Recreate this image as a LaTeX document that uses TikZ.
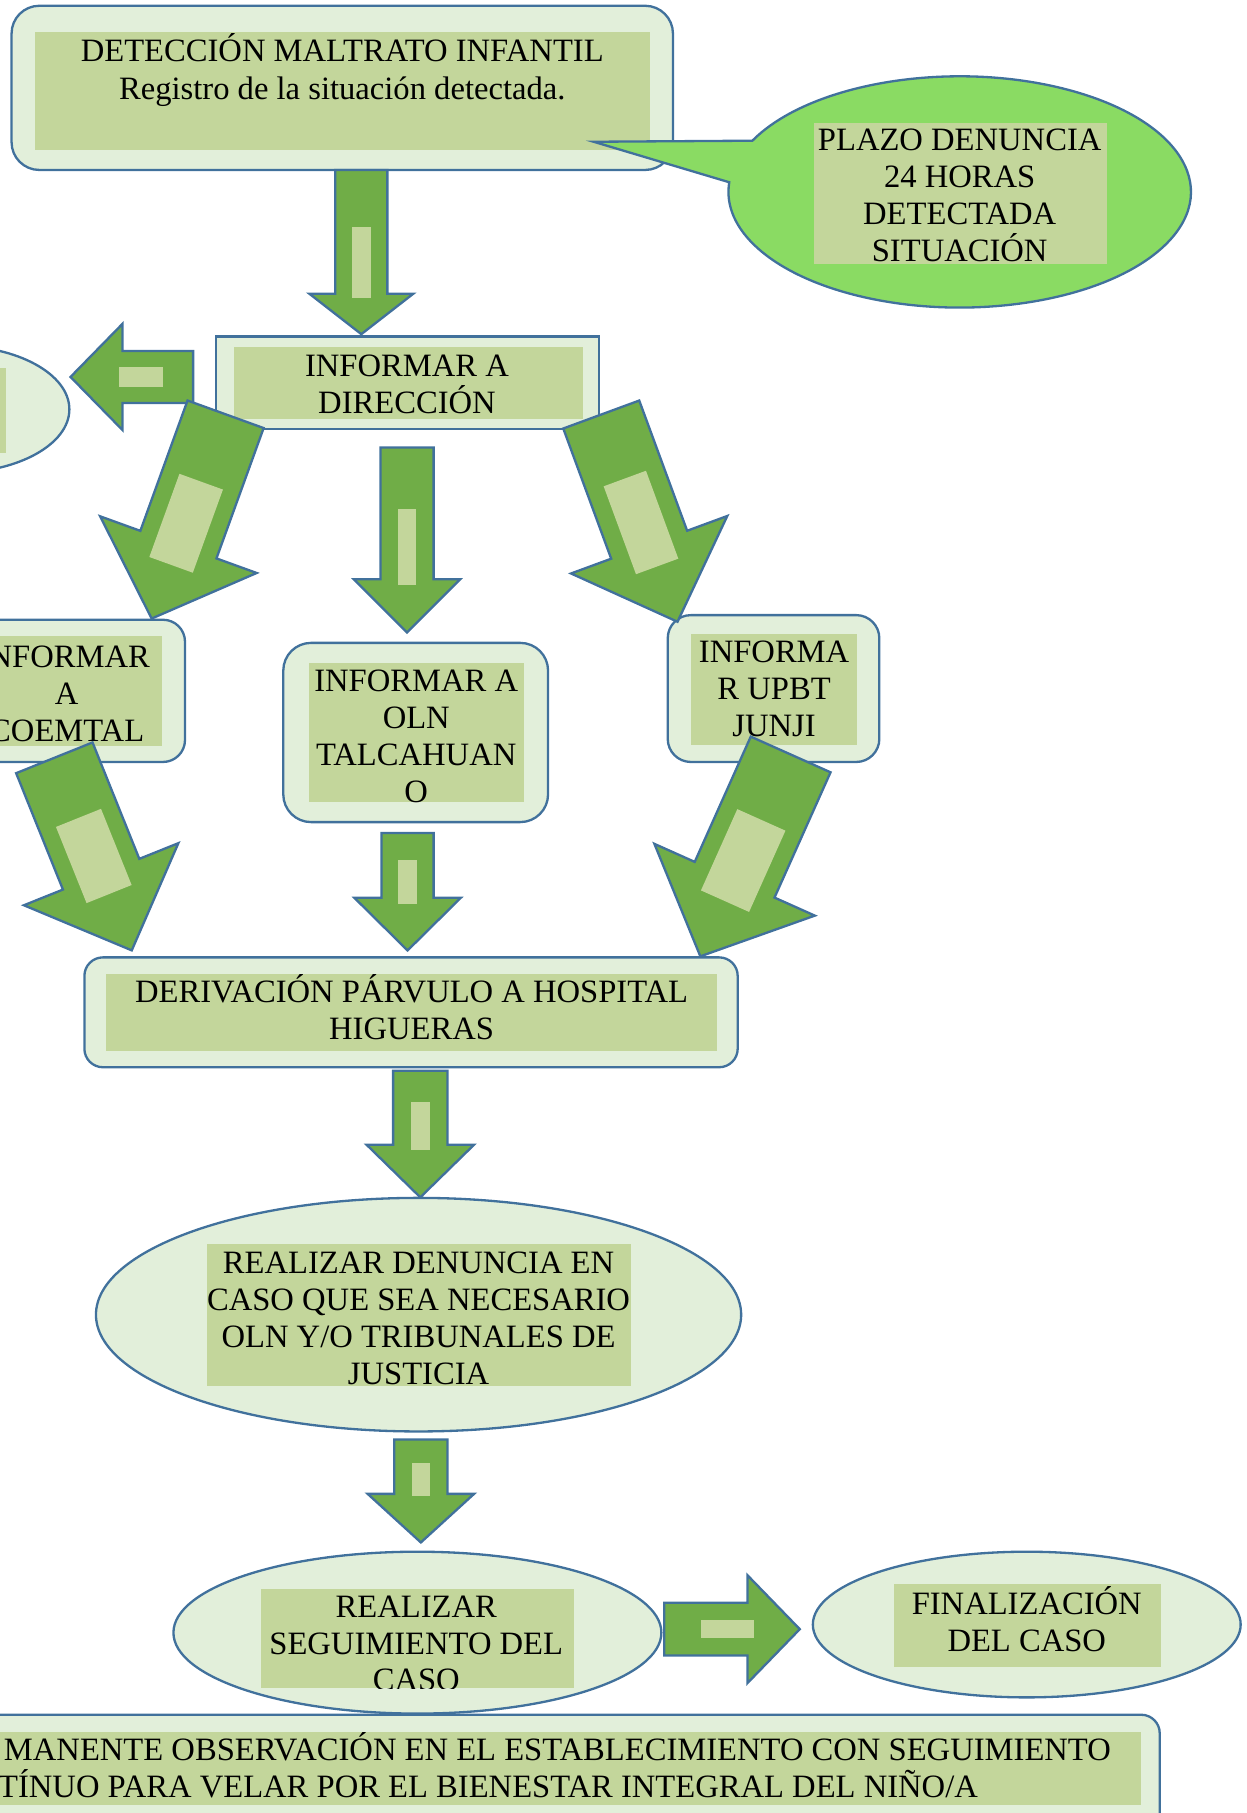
\documentclass[tikz,border=0pt]{standalone}
\usepackage{fontspec}
\setmainfont{Liberation Serif}
\usetikzlibrary{shapes.geometric}

\definecolor{boxfill}{RGB}{226,239,218}
\definecolor{innerfill}{RGB}{195,214,155}
\definecolor{arrowgreen}{RGB}{112,173,71}
\definecolor{edgeblue}{RGB}{65,113,156}
\definecolor{calloutgreen}{RGB}{138,219,99}

\tikzset{
  panel/.style={rectangle, draw=edgeblue, fill=boxfill, line width=1pt, inner sep=0pt},
  oval/.style={ellipse, draw=edgeblue, fill=boxfill, line width=1pt, inner sep=0pt},
  arrowbody/.style={draw=edgeblue, fill=arrowgreen, line width=1pt, line join=miter},
  arrowmark/.style={fill=innerfill},
  txt/.style={font=\fontsize{14.1pt}{16pt}\selectfont, inner sep=0pt, anchor=base},
}

% block arrow: tail x, tail y, angle, length, shaft half width,
% head half width, head length, inner mark start/end/half width
\newcommand\blockarrow[8]{%
  \begin{scope}[shift={(#1,#2)},rotate=#3]
    \filldraw[arrowbody] (0,-#5) -- ({#4-#7},-#5) -- ({#4-#7},-#6) -- (#4,0)
      -- ({#4-#7},#6) -- ({#4-#7},#5) -- (0,#5) -- cycle;
    \foreach \ia/\ib/\iw in {#8} {\fill[arrowmark] (\ia,-\iw) rectangle (\ib,\iw);}
  \end{scope}}

% centred lines of text: name, x, first baseline, line spacing, lines
\newcommand\textlines[5]{%
  \foreach \ln [count=\k] in {#5} {\node[txt] (#1-\k) at (#2,{#3+(\k-1)*#4}) {\ln};}}

\begin{document}
\begin{tikzpicture}[x=0.5pt,y=-0.5pt]
\useasboundingbox (0,0) rectangle (1078,1568);
\clip (0,0) rectangle (1078,1568);

% ---------- boxes ----------
\node[panel, rounded corners=12pt, minimum width=286pt, minimum height=71pt] (det) at (296,76) {};
\fill[innerfill] (30,28) rectangle (562,130);
\node[txt] (det-1) at (296,53) {DETECCIÓN MALTRATO INFANTIL};
\node[txt] (det-2) at (296,86) {Registro de la situación detectada.};

\node[panel, minimum width=165.5pt, minimum height=40pt] (dir) at (352.5,331) {};
\fill[innerfill] (202,300) rectangle (504,362);
\textlines{dirt}{352}{326}{32}{INFORMAR A,DIRECCIÓN}

\node[oval, minimum width=100pt, minimum height=55pt] (lel) at (-40,354) {};
\fill[innerfill] (-80,318) rectangle (5,392);

\node[panel, rounded corners=9.5pt, minimum width=102pt, minimum height=61.5pt] (coe) at (58,597.5) {};
\fill[innerfill] (-30,550) rectangle (140,645);
\node[txt, anchor=base east] (coet-1) at (130,577) {NFORMAR};
\node[txt] (coet-2) at (57.7,609) {A};
\node[txt] (coet-3) at (57.7,641) {COEMTAL};

\node[panel, rounded corners=12pt, minimum width=114.5pt, minimum height=77.5pt] (oln) at (359.5,633.5) {};
\fill[innerfill] (267,573) rectangle (453,694);
\textlines{olnt}{360}{598}{32}{INFORMAR A,OLN,TALCAHUAN,O}

\node[panel, rounded corners=10pt, minimum width=91.5pt, minimum height=63.5pt] (upbt) at (669,595.5) {};
\fill[innerfill] (598,548) rectangle (741,644);
\textlines{upbtt}{669.5}{573}{32}{INFORMA,R UPBT,JUNJI}

\node[panel, rounded corners=8pt, minimum width=282.5pt, minimum height=47.5pt] (der) at (355.5,875.5) {};
\fill[innerfill] (92,842) rectangle (620,909);
\textlines{dert}{356}{867}{32}{DERIVACIÓN PÁRVULO A HOSPITAL,HIGUERAS}

\node[oval, minimum width=279pt, minimum height=101pt] (den) at (362,1137) {};
\fill[innerfill] (179,1076) rectangle (546,1199);
\textlines{dent}{362}{1101}{32}{REALIZAR DENUNCIA EN,CASO QUE SEA NECESARIO,OLN Y/O TRIBUNALES DE,JUSTICIA}

\node[oval, minimum width=211pt, minimum height=70pt] (seg) at (361,1412) {};
\fill[innerfill] (226,1374) rectangle (496,1460);
\begin{scope}
  \clip (226,1374) rectangle (496,1460);
  \textlines{segt}{360}{1399}{31.5}{REALIZAR,SEGUIMIENTO DEL,CASO}
\end{scope}

\node[oval, minimum width=185pt, minimum height=63pt] (fin) at (888,1405) {};
\fill[innerfill] (773,1370) rectangle (1004,1442);
\textlines{fint}{888}{1396}{32}{FINALIZACIÓN,DEL CASO}

\node[panel, rounded corners=8pt, minimum width=522pt, minimum height=58.5pt] (bot) at (481,1541.5) {};
\fill[innerfill] (-20,1498) rectangle (987,1561);
\node[txt, anchor=base west] (bott-1) at (3,1523) {MANENTE OBSERVACIÓN EN EL ESTABLECIMIENTO CON SEGUIMIENTO};
\node[txt, anchor=base west] (bott-2) at (-2,1555) {TÍNUO PARA VELAR POR EL BIENESTAR INTEGRAL DEL NIÑO/A};

% ---------- block arrows ----------
\blockarrow{312.5}{147}{-90}{142}{22.5}{45}{35}{49/111/8}
\blockarrow{167}{326}{180}{106}{22.5}{46}{45}{26/64/8.5}
\blockarrow{195.1}{358.3}{-109.9}{187.9}{35}{72}{68}{62/138.5/20}
\blockarrow{352}{387}{-90}{160}{23}{46}{46}{53/119/8}
\blockarrow{520}{358.5}{-69.8}{191}{35}{72}{71}{59/140/19.5}
\blockarrow{47}{655.4}{-68.1}{179.5}{35.6}{72}{71}{56/127/21}
\blockarrow{683.8}{652.5}{-114.1}{191.3}{37.8}{76}{72.6}{62/139/22.8}
\blockarrow{352.5}{720.5}{-90}{101.5}{22.5}{46}{45.5}{23.5/61.5/8}
\blockarrow{363.5}{926}{-90}{109.5}{23.5}{46.5}{45.5}{27.5/68.5/8}
\blockarrow{364}{1245}{-90}{89}{23}{46}{42}{20/49/8}
\blockarrow{574.5}{1409}{0}{117.2}{22.8}{46.6}{45.2}{31.5/78/8}

% ---------- callout ----------
\coordinate (callc) at (830,166);
\coordinate (calltip) at (513.4,122.6);
\filldraw[draw=edgeblue, fill=calloutgreen, line width=1pt, line join=miter]
  ([shift={(153.7:100pt and 50pt)}]callc)
  arc[start angle=153.7, end angle=-184.8, x radius=100pt, y radius=50pt]
  -- (calltip) -- cycle;
\fill[innerfill] (704,106) rectangle (957,228);
\textlines{callt}{830}{130}{32}{PLAZO DENUNCIA,24 HORAS,DETECTADA,SITUACIÓN}
\end{tikzpicture}
\end{document}
